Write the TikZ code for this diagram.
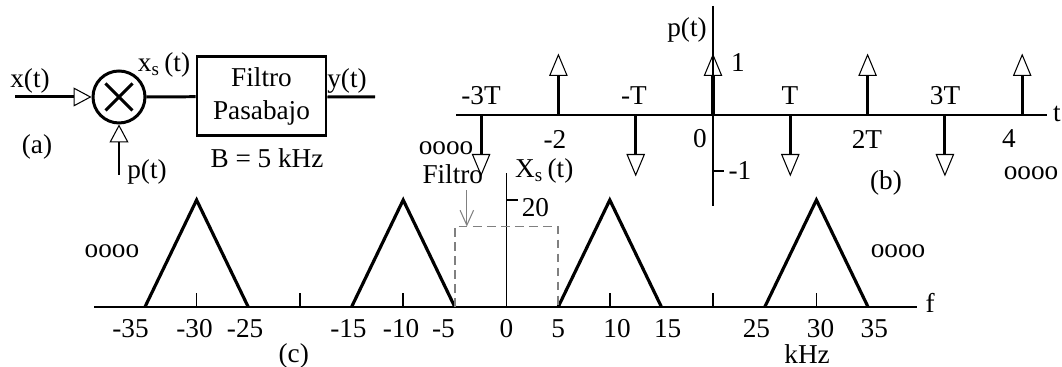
\documentclass[tikz,border=0pt]{standalone}
\usepackage{fontspec}
\setmainfont{Liberation Serif}
\usetikzlibrary{calc,arrows.meta}

\begin{document}
\begin{tikzpicture}[thick, font=\fontsize{15.5}{17}\selectfont,
  opentip/.style={-{Triangle[open,length=0.36cm,width=0.38cm,line width=0.6pt]}},
  impulse/.style={line width=1.8pt,-{Triangle[open,length=0.45cm,width=0.37cm,line width=0.6pt]}},
  spec/.style={line width=1.8pt},
  axis/.style={line width=0.8pt},
  block/.style={line width=1.7pt}]
  \useasboundingbox (0,0) rectangle (21.24,7.34);

  % (a) sistema
  \coordinate (xin) at (0.30, 5.40);
  \coordinate (pin) at (2.38, 3.84);
  \coordinate (yout) at (7.50, 5.40);
  \node[circle, draw, block, minimum size=1.04cm, inner sep=0] (mult) at (2.38, 5.40) {};
  \node[draw, block, minimum width=2.58cm, minimum height=1.58cm, align=center] (lpf) at (5.23, 5.41) {Filtro\\[2pt]Pasabajo};
  \draw[block, opentip] (xin) -- (mult);
  \draw[block, opentip] (pin) -- (mult);
  \draw[block] (mult) -- (lpf);
  \draw[block] (lpf) -- (yout);
  \draw[block] ($(mult)+(-0.27,-0.27)$) -- ($(mult)+(0.27,0.27)$);
  \draw[block] ($(mult)+(-0.27,0.27)$) -- ($(mult)+(0.27,-0.27)$);

  \node (xlab) at (0.60, 5.72) {x(t)};
  \node (xslab) at (3.28, 6.04) {x\textsubscript{s}\,(t)};
  \node (ylab) at (6.94, 5.72) {y(t)};
  \node (plab) at (2.94, 3.90) {p(t)};
  \node (blab) at (5.34, 4.18) {B = 5 kHz};
  \node (alab) at (0.74, 4.40) {(a)};

  % (b) tren de impulsos
  \coordinate (tstart) at (9.12, 5.04);
  \coordinate (tend) at (20.94, 5.04);
  \draw[axis] (tstart) -- (tend);
  \node (tlab) at (21.14, 5.06) {t};
  \draw[line width=0.6pt] (14.26, 7.22) -- (14.26, 3.22);
  \foreach \k/\h in {-3/-1,-2/1,-1/-1,0/1,1/-1,2/1,3/-1,4/1} {
    \coordinate (imp\k) at (14.26+1.546*\k, 5.04);
    \draw[impulse] (imp\k) -- ++(0, 1.23*\h);
  }
  \node (pb) at (13.74, 6.74) {p(t)};
  \node (one) at (14.76, 6.08) {1};
  \draw[line width=0.6pt] (14.26, 3.92) -- (14.48, 3.92);
  \node (mone) at (14.80, 3.92) {-1};
  \node (m3T) at (9.62, 5.42) {-3T};
  \node (mT) at (12.68, 5.42) {-T};
  \node (pT) at (15.80, 5.42) {T};
  \node (p3T) at (18.90, 5.42) {3T};
  \node (m2) at (11.10, 4.56) {-2};
  \node (zb) at (14.00, 4.56) {0};
  \node (p2T) at (17.34, 4.56) {2T};
  \node (p4) at (20.18, 4.56) {4};
  \node (dotsl) at (8.92, 4.38) {oooo};
  \node (dotsr) at (20.62, 3.88) {oooo};
  \node (blabel) at (17.72, 3.68) {(b)};

  % (c) espectro muestreado
  \begin{scope}[shift={(10.13,1.20)}, x=0.2066cm]
    \draw[axis] (-39.9,0) -- (39.7,0);
    \node (flab) at (41.0, 0.08) {f};
    \draw[line width=0.6pt] (0,0) -- (0,2.68);
    \foreach \c in {-30,-10,10,30}
      \draw[spec] (\c-5,0) -- (\c,2.14) -- (\c+5,0);
    \foreach \t in {-30,-20,-10,10,20,30}
      \draw[axis] (\t,0) -- (\t,0.28);
    \draw[line width=0.6pt] (0,2.14) -- (1.16,2.14);
    \draw[gray, line width=0.8pt, dash pattern=on 5pt off 3pt] (-5,0) -- (-5,1.61) -- (5,1.61) -- (5,0);
    \foreach \v/\p in {-35/-36.4,-30/-30.2,-25/-25.3,-15/-15.3,-10/-10.2,-5/-6.1,0/0,5/5,10/10.7,15/15.6,25/24.2,30/30.4,35/35.6}
      \node (fl\v) at (\p,-0.43) {\v};
    \coordinate (fil) at (-3.84, 1.61);
    \node (filtro) at (-5.2, 2.66) {Filtro};
    \draw[gray, line width=0.6pt, -{Straight Barb[length=0.3cm,width=0.27cm]}] (filtro.south -| fil) -- (fil);
    \node (xslabc) at (3.65, 2.72) {X\textsubscript{s}\,(t)};
    \node (twenty) at (2.80, 1.98) {20};
    \node (dotsl2) at (-38.2, 1.12) {oooo};
    \node (dotsr2) at (37.9, 1.12) {oooo};
    \node (clabel) at (-20.6, -0.97) {(c)};
    \node[inner sep=1pt] (khz) at (29.1, -0.94) {kHz};
  \end{scope}
\end{tikzpicture}
\end{document}
